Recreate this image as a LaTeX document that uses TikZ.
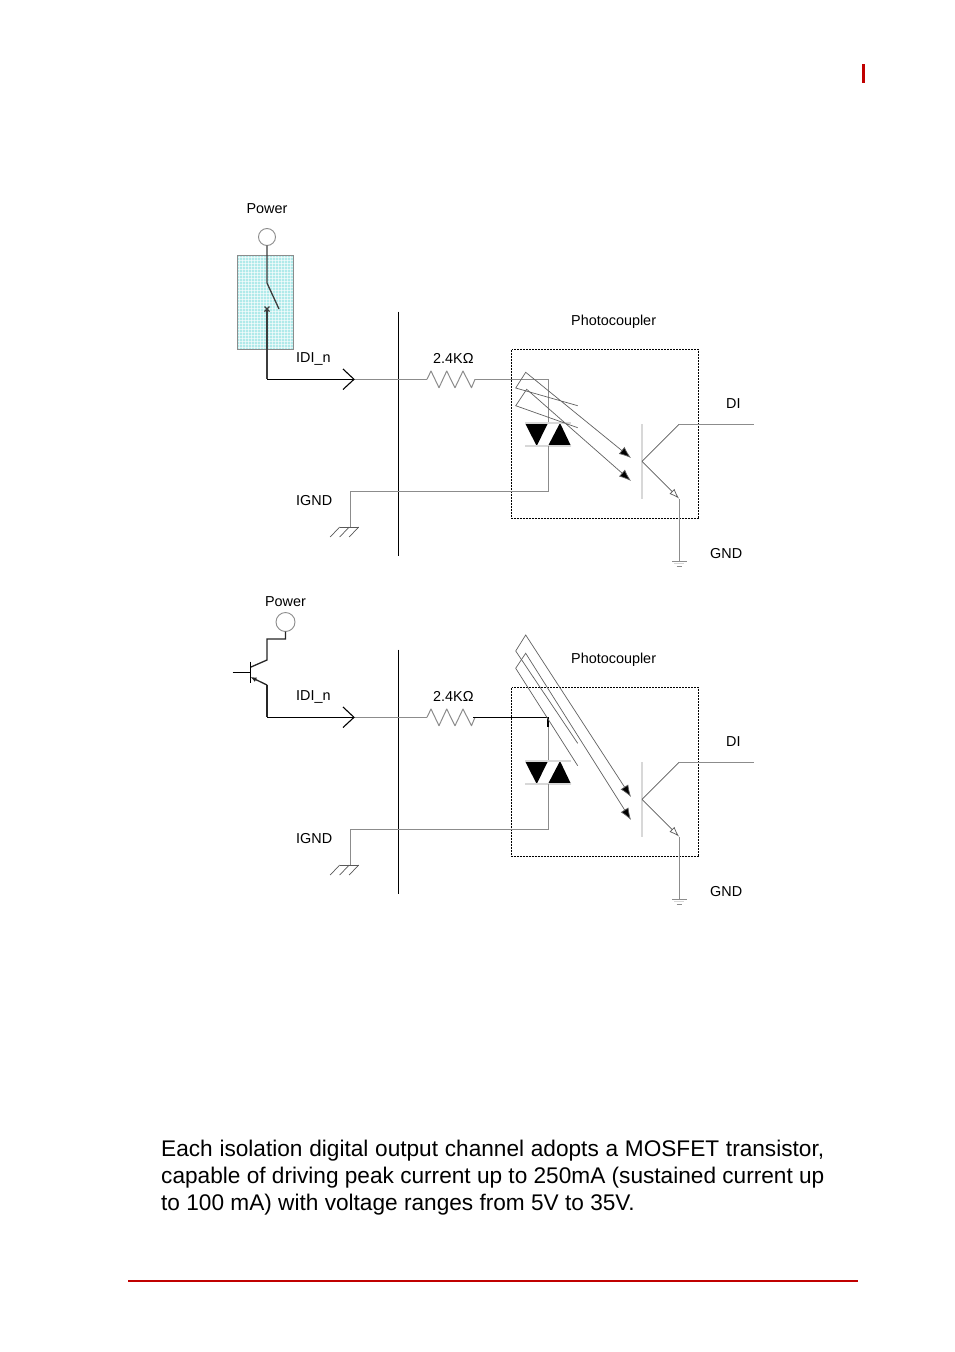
\documentclass[tikz,border=0pt]{standalone}
\usepackage{fontspec}
\setmainfont{Liberation Sans}
\usetikzlibrary{arrows.meta}
\definecolor{wire}{HTML}{8C8C8C}
\definecolor{dark}{HTML}{3C3C3C}
\definecolor{bar}{HTML}{D8D8D8}
\definecolor{redrule}{HTML}{C00000}
\definecolor{hatchbg}{HTML}{B0EAEA}
\tikzset{
  wireline/.style={draw=wire,line width=1pt},
  thin wire/.style={draw=black!65,line width=0.7pt},
  heavy/.style={draw=dark,line width=1.3pt},
  blackline/.style={draw=black,line width=1.1pt},
  lbl/.style={font=\fontsize{14.4}{16}\selectfont,inner sep=0pt,text=black},
  boxdot/.style={draw=black,line width=1.1pt,dash pattern=on 2pt off 1pt},
  filledhead/.style={-{Latex[length=12pt,width=9pt,fill=black]},draw=black!62,line width=0.7pt},
  bodytext/.style={inner sep=0pt,anchor=base west,font=\fontsize{22.64}{27}\selectfont,text=black},
}
\begin{document}
\begin{tikzpicture}[x=1pt,y=-1pt]
\useasboundingbox (0,0) rectangle (954,1352);
\fill[white] (0,0) rectangle (954,1352);
% page marks
\draw[draw=redrule,line width=2.2pt] (863.5,64) -- (863.5,83);
\draw[draw=redrule,line width=2pt] (128,1281) -- (858,1281);
% hatched rectangle
\fill[hatchbg] (237,255) rectangle (293.5,349.5);
\foreach \x in {239,242,...,293}{\draw[white,line width=0.9pt,opacity=.6] (\x,255) -- (\x,349.5);}
\foreach \y in {257,260,...,349}{\draw[white,line width=0.9pt,opacity=.6] (237,\y) -- (293.5,\y);}
\draw[wire,line width=0.9pt] (237,255) rectangle (293.5,349.5);
% two circuits share the right-hand part
\foreach \off in {0,338}{
  \begin{scope}[yshift=-\off pt]
    \draw[boxdot] (511.5,349.5) rectangle (698.5,518.5);
    \draw[blackline] (398.5,311.5) -- (398.5,555.5);
    \draw[wireline] (354,379.3) -- (427,379.3);
    \draw[wireline,line join=round] (427,379.3) -- (431,371) -- (439,387.7) -- (446.7,371) -- (455,387.7) -- (463,371) -- (471.5,387.7) -- (475,379.3);
    \draw[wireline] (548,379.3) -- (548,423);
    \fill[black] (525,423) -- (548,423) -- (536.7,446) -- cycle;
    \fill[black] (560,423) -- (571,446) -- (548,446) -- cycle;
    \draw[bar,line width=1.2pt] (525,423) -- (571,423);
    \draw[bar,line width=1.2pt] (525,446) -- (571,446);
    \draw[wireline] (548,446) -- (548,491) -- (350,491) -- (350,527);
    \draw[thin wire] (339.7,527) -- (358.7,527);
    \foreach \gx in {339.7,349.2,358.7}{\draw[thin wire] (\gx,527) -- ++(-9.5,10);}
    \draw[bar,line width=1.6pt] (642,424) -- (642,498.5);
    \draw[thin wire] (642,461.3) -- (679,424.3);
    \draw[wireline] (679,424.3) -- (754,424.3);
    \draw[thin wire,-{Latex[open,length=10pt,width=7pt]}] (642,461.3) -- (679,498.5);
    \draw[wireline] (679,498.5) -- (679,561);
    \draw[wire,line width=.9pt] (672,561) -- (686.5,561);
    \draw[bar,line width=.9pt] (674,563.8) -- (684,563.8);
    \draw[wire,line width=.9pt] (676.5,566.3) -- (682,566.3);
    \node[lbl,anchor=west] at (296,358.5) {IDI\_n};
    \node[lbl,anchor=west] at (296,501) {IGND};
    \node[lbl,anchor=west] at (710,554) {GND};
    \node[lbl,anchor=west] at (726,404) {DI};
    \node[lbl,anchor=west] at (571,321.5) {Photocoupler};
    \node[lbl,anchor=west] at (433,358) {2.4K\symbol{"03A9}};
  \end{scope}
}
% upper input stage
\draw[wire,line width=.9pt] (267,237) circle (8.5pt);
\draw[heavy] (267,245.5) -- (267,283) -- (279,309);
\draw[heavy,line width=1.1pt] (264.5,306.5) -- (269.5,311.5) (264.5,311.5) -- (269.5,306.5);
\draw[heavy] (267,309) -- (267,379.3);
\draw[blackline] (267,379.3) -- (354,379.3);
\draw[blackline] (343,369) -- (354,379.3) -- (343,389.5);
\draw[wireline] (475,379.3) -- (548,379.3);
\node[lbl,anchor=center] at (267,209) {Power};
% upper rays
\draw[filledhead] (577.7,405.7) -- (515.7,388) -- (525.7,372.3) -- (631,458);
\draw[filledhead] (577.7,427.7) -- (515.7,405.7) -- (526.7,389.3) -- (631,481);
% lower input stage
\draw[wire,line width=.9pt] (285.5,622) circle (9.5pt);
\draw[heavy,draw=black!85] (285.5,631.5) -- (285.5,639) -- (267,639) -- (267,660) -- (251,667);
\draw[draw=black,line width=.9pt] (250,661.7) -- (250,683);
\draw[draw=black,line width=.9pt] (232.5,672) -- (250,672);
\draw[heavy,draw=black!85,{Latex[length=6pt,width=5pt]}-] (250.5,677) -- (267,685);
\draw[heavy,draw=black!85] (267,685) -- (267,717.3);
\draw[blackline] (267,717.3) -- (354,717.3);
\draw[blackline] (343,707) -- (354,717.3) -- (343,727.5);
\draw[blackline] (473,717.3) -- (548,717.3) -- (548,727);
\node[lbl,anchor=center] at (285.5,602) {Power};
% lower rays
\draw[filledhead] (577.7,743.3) -- (515.7,651) -- (525.7,635) -- (631,797);
\draw[filledhead] (577.7,765.7) -- (515.7,668.3) -- (525.7,653.3) -- (631,820);
% body text
\node[bodytext] at (161,1156) {\makebox[663pt][s]{Each isolation digital output channel adopts a MOSFET transistor,}};
\node[bodytext] at (161,1183) {capable of driving peak current up to 250mA (sustained current up};
\node[bodytext] at (161,1210) {to 100 mA) with voltage ranges from 5V to 35V.};
\end{tikzpicture}
\end{document}
